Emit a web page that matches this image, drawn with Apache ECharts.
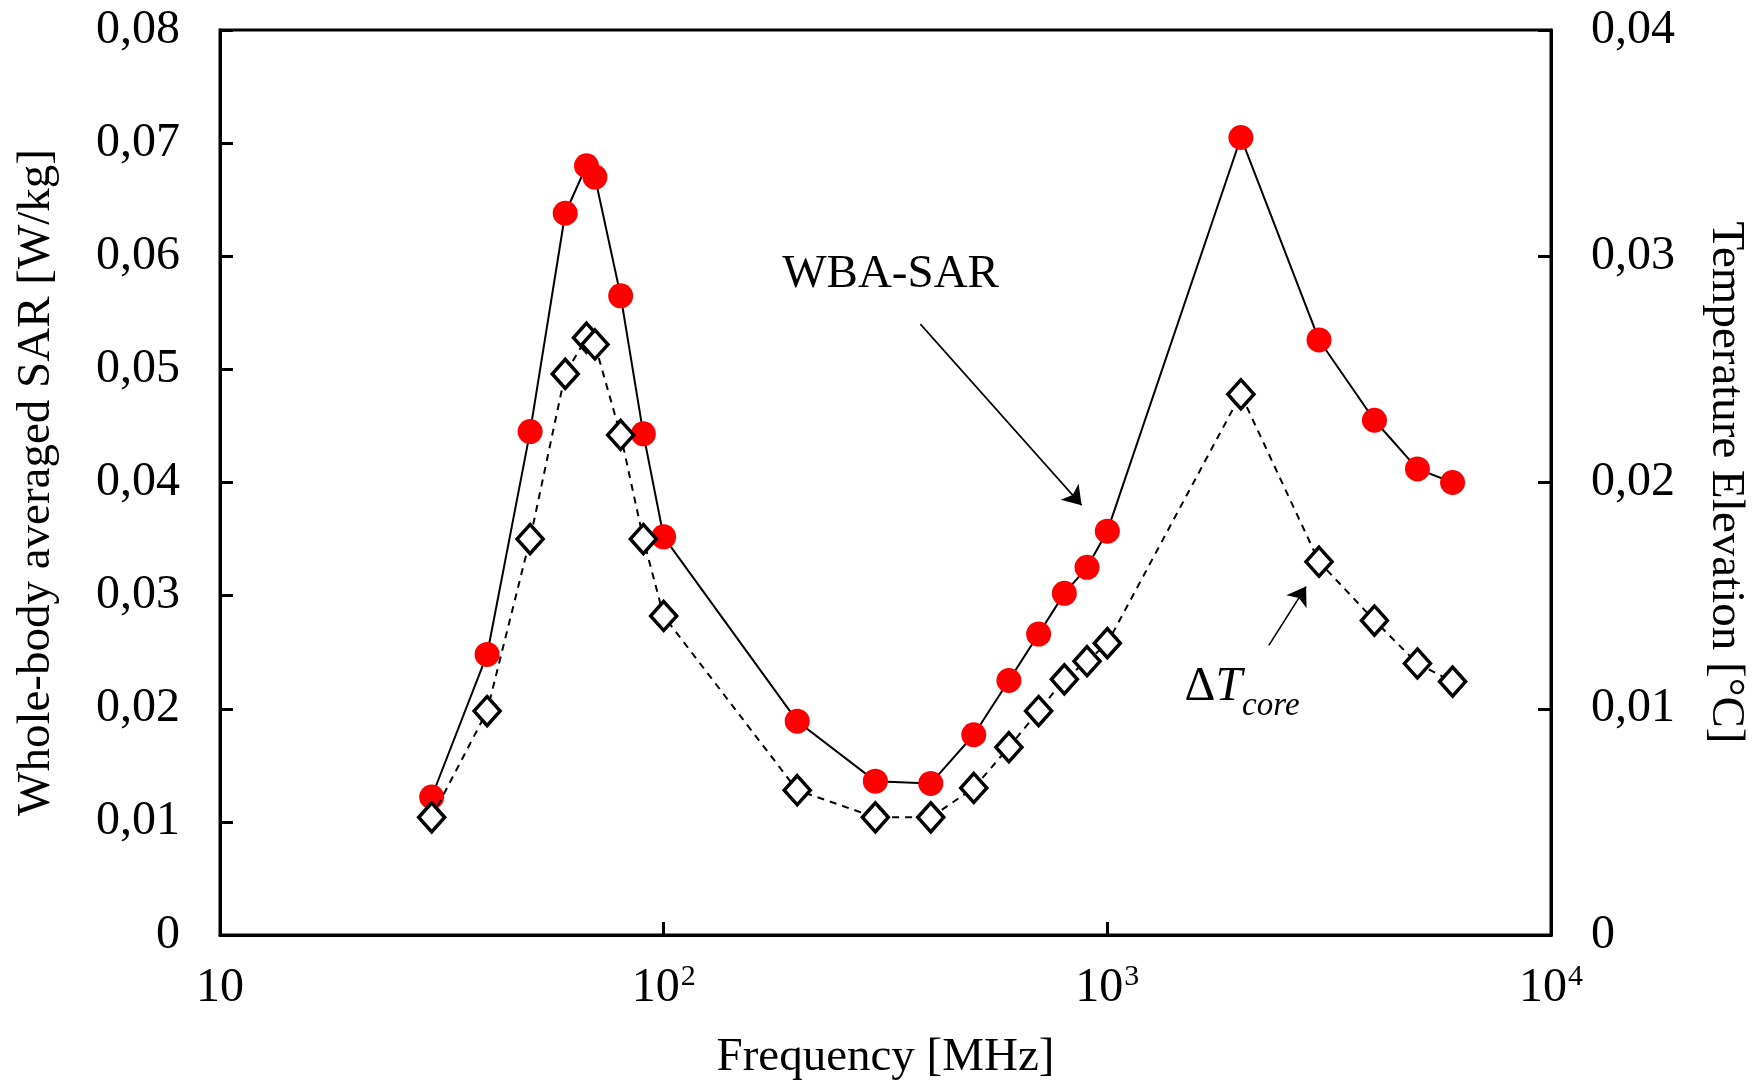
<!DOCTYPE html>
<html>
<head>
<meta charset="utf-8">
<script src="https://cdn.jsdelivr.net/npm/echarts@6/dist/echarts.min.js"></script>
<style>
html,body{margin:0;padding:0;background:#fff;}
#chart{width:1760px;height:1086px;}
</style>
</head>
<body>
<div id="chart"></div>
<script>
// Frequencies [MHz]
const freqs = [30, 40, 50, 60, 67, 70, 80, 90, 100, 200, 300, 400, 500, 600, 700, 800, 900, 1000, 2000, 3000, 4000, 5000, 6000];
// Whole-body averaged SAR [W/kg]
const sarValues = [0.0122, 0.0248, 0.0445, 0.0638, 0.0680, 0.0670, 0.0565, 0.0443, 0.0352, 0.0189, 0.0136, 0.0134, 0.0177, 0.0225, 0.0266, 0.0302, 0.0325, 0.0357, 0.0705, 0.0526, 0.0455, 0.0412, 0.0400];
// Core temperature elevation [°C]
const dTValues = [0.0052, 0.0099, 0.0175, 0.0248, 0.0264, 0.0261, 0.0221, 0.0175, 0.0141, 0.0064, 0.0052, 0.0052, 0.0065, 0.0083, 0.0099, 0.0113, 0.0121, 0.0129, 0.0239, 0.0165, 0.0139, 0.0120, 0.0112];
// Axis ticks
const xTicks = [10, 100, 1000, 10000];
const leftTicks = [0, 0.01, 0.02, 0.03, 0.04, 0.05, 0.06, 0.07, 0.08];
const rightTicks = [0, 0.01, 0.02, 0.03, 0.04];
// Annotations (data coordinates on the SAR axis)
const wbaArrow = [[379, 0.0540], [875, 0.0380]];
const dtArrow = [[2312, 0.0256], [2805, 0.0308]];
const wbaLabelAt = [185, 0.0584];
const dtLabelAt = [1493, 0.0219];

const FONT = '"Liberation Serif", "Times New Roman", serif';
const fmt = v => (Math.abs(v) < 1e-9 ? '0' : v.toFixed(2).replace('.', ','));
const TICK_FS = 48, TITLE_FS = 47;

const chart = echarts.init(document.getElementById('chart'), null, {renderer: 'canvas'});
chart.setOption({
  animation: false,
  backgroundColor: '#fff',
  grid: {left: 220, right: 209, top: 30, bottom: 148, show: true, borderColor: '#000', borderWidth: 3},
  xAxis: {
    type: 'log', logBase: 10, min: xTicks[0], max: xTicks[xTicks.length - 1],
    name: 'Frequency [MHz]', nameLocation: 'middle', nameGap: 99,
    nameTextStyle: {fontFamily: FONT, fontSize: TITLE_FS, color: '#000'},
    axisLine: {lineStyle: {color: '#000', width: 3}},
    axisTick: {inside: true, length: 13, lineStyle: {color: '#000', width: 3}},
    minorTick: {show: false},
    splitLine: {show: false},
    axisLabel: {
      margin: 27, color: '#000',
      formatter: v => {
        const e = Math.round(Math.log10(v));
        return e === 1 ? '{b|10}' : '{b|10}{s|' + e + '}';
      },
      rich: {
        b: {fontFamily: FONT, fontSize: TICK_FS, color: '#000', lineHeight: 52},
        s: {fontFamily: FONT, fontSize: 30, color: '#000', lineHeight: 30, padding: [0, 0, 22, 1]}
      }
    }
  },
  yAxis: [
    {
      type: 'value', min: 0, max: 0.08, interval: 0.01, position: 'left',
      name: 'Whole-body averaged SAR [W/kg]', nameLocation: 'middle', nameRotate: 90, nameGap: 160,
      nameTextStyle: {fontFamily: FONT, fontSize: TITLE_FS, color: '#000'},
      axisLine: {show: true, lineStyle: {color: '#000', width: 3}},
      axisTick: {show: true, inside: true, length: 13, lineStyle: {color: '#000', width: 3}},
      splitLine: {show: false},
      axisLabel: {margin: 40, fontFamily: FONT, fontSize: TICK_FS, color: '#000', formatter: fmt}
    },
    {
      type: 'value', min: 0, max: 0.04, interval: 0.01, position: 'right',
      name: 'Temperature Elevation [°C]', nameLocation: 'middle', nameRotate: -90, nameGap: 151,
      nameTextStyle: {fontFamily: FONT, fontSize: TITLE_FS, color: '#000'},
      axisLine: {show: true, lineStyle: {color: '#000', width: 3}},
      axisTick: {show: true, inside: true, length: 13, lineStyle: {color: '#000', width: 3}},
      splitLine: {show: false},
      axisLabel: {margin: 40, fontFamily: FONT, fontSize: TICK_FS, color: '#000', formatter: fmt}
    }
  ],
  series: [
    {
      name: 'WBA-SAR', type: 'line', yAxisIndex: 0,
      data: freqs.map((f, i) => [f, sarValues[i]]),
      symbol: 'circle', symbolSize: 25, showAllSymbol: true,
      lineStyle: {color: '#000', width: 2},
      itemStyle: {color: '#ff0000', borderWidth: 0},
      z: 2,
      markLine: {
        silent: true, animation: false,
        symbol: ['none', 'arrow'], symbolSize: 18,
        lineStyle: {color: '#000', width: 1.6, type: 'solid'},
        label: {show: false},
        data: [
          [{coord: wbaArrow[0]}, {coord: wbaArrow[1]}],
          [{coord: dtArrow[0]}, {coord: dtArrow[1]}]
        ]
      },
      markPoint: {
        silent: true, animation: false,
        symbol: 'circle', symbolSize: 1, itemStyle: {color: 'rgba(0,0,0,0)'},
        data: [
          {coord: wbaLabelAt, label: {show: true, position: 'inside', align: 'left', verticalAlign: 'middle',
            formatter: 'WBA-SAR', fontFamily: FONT, fontSize: TITLE_FS, color: '#000'}},
          {coord: dtLabelAt, label: {show: true, position: 'inside', align: 'left', verticalAlign: 'middle',
            formatter: '{a|Δ}{t|T}{s|core}',
            rich: {
              a: {fontFamily: FONT, fontSize: 48, color: '#000', lineHeight: 48},
              t: {fontFamily: FONT, fontSize: 48, fontStyle: 'italic', color: '#000', lineHeight: 48},
              s: {fontFamily: FONT, fontSize: 33, fontStyle: 'italic', color: '#000', lineHeight: 33, padding: [38, 0, 0, 0]}
            }}}
        ]
      }
    },
    {
      name: 'ΔTcore', type: 'line', yAxisIndex: 1,
      data: freqs.map((f, i) => [f, dTValues[i]]),
      symbol: 'diamond', symbolSize: [26, 29], showAllSymbol: true,
      lineStyle: {color: '#000', width: 2, type: [7, 6]},
      itemStyle: {color: '#fff', borderColor: '#000', borderWidth: 3.5},
      z: 3
    }
  ]
});
</script>
</body>
</html>
